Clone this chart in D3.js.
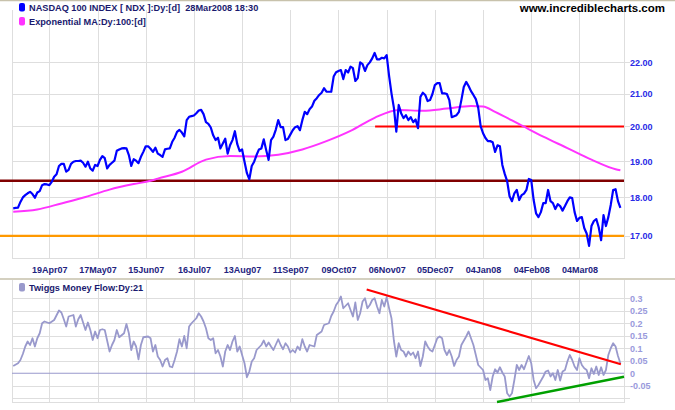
<!DOCTYPE html>
<html><head><meta charset="utf-8">
<script src="https://cdn.jsdelivr.net/npm/d3@7"></script>
<style>
body{margin:0;background:#fff}
svg{display:block}
text{font-family:"Liberation Sans",Arial,sans-serif;font-weight:bold}
</style>
</head><body>
<svg id="c" width="675" height="410"></svg>
<script>
// ---------- DATA ----------
const tickLabels = ["19Apr07","17May07","15Jun07","16Jul07","13Aug07","11Sep07","09Oct07","06Nov07","05Dec07","04Jan08","04Feb08","04Mar08"];
const tickBars = [15,35,55,75,95,115,135,155,175,195,215,235];

// NASDAQ 100 index (/100), one value per trading day, bar 0..252
const price = [
17.71,17.72,17.73,17.88,18.00,18.06,18.11,18.15,18.09,17.99,
18.13,18.17,18.33,18.36,18.35,18.33,18.42,18.56,18.63,18.86,
18.92,18.92,18.70,18.75,18.92,18.98,19.00,19.00,19.01,18.95,
18.84,18.98,18.79,18.73,18.89,18.86,19.03,19.14,19.08,18.79,
18.89,18.95,19.01,19.29,19.33,19.36,19.37,19.36,19.17,18.86,
19.05,19.01,18.94,19.12,19.26,19.42,19.42,19.35,19.26,19.38,
19.21,19.17,19.12,19.33,19.35,19.36,19.55,19.67,19.84,19.90,
19.82,19.71,20.19,20.29,20.31,20.33,20.40,20.48,20.50,20.37,
20.13,20.08,19.97,19.74,19.60,19.67,19.36,19.50,19.64,19.21,
19.45,19.60,19.86,19.48,19.28,19.33,18.98,18.66,18.49,18.86,
18.98,19.17,19.33,19.36,19.62,19.31,19.03,19.60,19.70,19.91,
20.19,19.98,19.98,19.60,19.63,19.76,19.89,19.98,20.01,19.89,
20.19,20.44,20.37,20.52,20.60,20.78,20.86,20.96,21.03,21.17,
21.06,21.06,21.06,21.54,21.68,21.72,21.75,21.46,21.75,21.67,
21.86,21.81,21.40,21.49,22.00,21.94,21.72,21.91,22.00,22.13,
22.31,22.10,22.10,22.15,22.13,22.24,21.56,21.01,20.56,19.85,
20.65,20.40,20.25,20.34,20.19,20.28,20.13,20.21,19.95,20.90,
21.03,20.96,20.77,20.80,20.99,21.27,21.33,21.33,21.01,21.01,
20.99,20.80,20.28,20.31,20.34,20.44,20.80,21.21,21.37,21.24,
21.08,20.96,20.83,20.56,20.01,19.80,19.66,19.57,19.57,19.54,
19.26,19.45,19.42,18.89,18.64,18.44,18.03,17.90,18.11,18.20,
17.93,18.06,18.10,18.20,18.50,18.47,17.93,17.58,17.48,17.61,
17.85,17.85,18.20,17.90,17.85,17.69,17.82,17.77,17.65,17.77,
17.90,18.00,17.98,17.61,17.38,17.46,17.48,17.20,17.06,16.75,
17.25,17.38,17.43,17.22,16.89,17.53,17.25,17.48,17.80,18.20,
18.22,17.90,17.72
];

// Exponential MA 100 (read at sample bars)
const emaBar = [0,10,20,30,40,50,57,60,70,80,90,100,110,120,130,140,150,160,170,180,190,195,200,210,220,230,240,250,252];
const emaVal = [17.62,17.68,17.84,18.01,18.21,18.36,18.45,18.51,18.70,19.04,19.14,19.13,19.18,19.33,19.57,19.87,20.26,20.50,20.47,20.54,20.62,20.60,20.44,20.07,19.70,19.37,19.04,18.77,18.74];

// Twiggs Money Flow 21
const tmfBar = [0,2,3,4,5,6,7,8,9,10,11,12,13,15,17,19,20,21,22,23,25,26,27,28,30,31,32,33,34,35,36,37,38,40,41,42,43,44,46,47,48,49,50,51,52,53,54,56,57,58,59,60,61,62,63,64,65,66,67,68,69,70,71,72,73,74,76,77,78,79,80,81,82,83,84,85,86,87,88,89,90,91,92,93,94,95,96,97,98,99,100,101,103,104,105,106,107,108,110,111,112,113,114,115,116,117,118,119,120,121,122,123,125,126,127,128,129,131,132,133,134,135,136,137,139,140,141,142,143,144,145,146,147,148,149,150,151,152,153,154,155,156,157,158,159,160,161,162,163,164,165,166,167,168,169,170,171,172,173,174,175,176,177,178,179,180,181,182,183,184,185,186,188,189,190,191,192,193,195,196,197,198,199,200,201,202,203,204,205,206,207,208,209,210,211,212,213,214,215,216,217,218,220,221,222,223,224,225,226,227,228,229,230,231,232,233,234,235,236,237,238,239,240,241,242,243,244,245,246,247,248,249,250,251,252];
const tmfVal = [0.029,0.04,0.053,0.077,0.107,0.127,0.113,0.14,0.107,0.14,0.16,0.2,0.207,0.2,0.213,0.251,0.243,0.216,0.187,0.227,0.233,0.187,0.216,0.233,0.173,0.203,0.173,0.133,0.167,0.14,0.173,0.176,0.173,0.087,0.113,0.133,0.173,0.144,0.16,0.197,0.16,0.093,0.127,0.107,0.056,0.113,0.144,0.147,0.14,0.087,0.113,0.067,0.053,0.027,0.053,0.06,0.027,0.024,0.053,0.087,0.136,0.107,0.149,0.1,0.187,0.2,0.22,0.24,0.227,0.207,0.18,0.14,0.133,0.14,0.08,0.093,0.067,0.027,0.087,0.113,0.093,0.127,0.149,0.087,0.107,0.073,0.04,-0.016,0.007,0.047,0.06,0.093,0.113,0.131,0.107,0.123,0.107,0.093,0.136,0.113,0.096,0.12,0.107,0.083,0.093,0.083,0.107,0.093,0.136,0.107,0.087,0.113,0.107,0.153,0.16,0.167,0.193,0.2,0.229,0.247,0.273,0.287,0.307,0.26,0.28,0.253,0.227,0.283,0.213,0.24,0.287,0.3,0.26,0.273,0.293,0.3,0.267,0.24,0.293,0.267,0.304,0.26,0.22,0.13,0.067,0.12,0.093,0.087,0.067,0.087,0.073,0.083,0.06,0.087,0.029,0.067,0.127,0.107,0.093,0.087,0.113,0.14,0.147,0.14,0.093,0.073,0.093,0.067,0.029,0.053,0.067,0.113,0.147,0.167,0.14,0.113,0.073,0.033,0.013,-0.027,-0.02,-0.067,-0.013,0.016,0.003,0.024,0.003,-0.013,-0.08,-0.093,-0.08,-0.027,0.033,0.013,0.033,0.016,0.043,0.069,0.04,-0.027,-0.06,-0.047,-0.013,0.007,0.011,-0.013,0,-0.027,0.013,-0.029,0.007,0.013,0.047,0.073,0.053,0.027,0.013,0.06,0.033,0.02,0.013,-0.02,0.02,-0.003,0.027,-0.007,0.024,-0.007,0.013,0.073,0.1,0.12,0.107,0.069,0.04];

const priceTicks = [22,21,20,19,18,17];
const tmfTicks = [0.3,0.25,0.2,0.15,0.1,0.05,0,-0.05];
const tmfTickLabels = ["0.3","0.25","0.2","0.15","0.1","0.05","0","-0.05"];
const tmfGrid = [0.3,0.25,0.2,0.15,0.1,0.05,-0.05,-0.1];

// annotation lines drawn on the chart
const fullLevels = [{v:18.45,c:"#800000",w:2.5},{v:17.0,c:"#ff9900",w:2.2}];
const resist = {from:150.2,to:253.5,v:20.0};
const tmfDown = [[146.7,0.335],[252.2,0.036]];
const tmfUp = [[200.8,-0.115],[253.5,-0.0136]];

// ---------- DRAW ----------
const svg = d3.select("#c");
const L=12,R=624,T1=10,B1=258,T2=280,B2=402;
const x = d3.scaleLinear().domain([-0.5,253.5]).range([L,R]);
const yP = d3.scaleLog().domain([16.45,23.78]).range([B1,T1]);
const yT = d3.scaleLinear().domain([-0.115,0.373]).range([B2,T2]);
const grid="#dedede";

// frame lines
svg.append("line").attr("x1",0).attr("x2",675).attr("y1",0.5).attr("y2",0.5).attr("stroke","#c8c2ac").attr("stroke-width",1.5);
svg.append("line").attr("x1",0).attr("x2",675).attr("y1",279).attr("y2",279).attr("stroke","#d4d0c0").attr("stroke-width",2);

// grids upper
const g1 = svg.append("g").attr("shape-rendering","crispEdges");
g1.selectAll("line.h").data(priceTicks).enter().append("line")
 .attr("x1",L).attr("x2",R+6).attr("y1",d=>Math.round(yP(d))+0.5).attr("y2",d=>Math.round(yP(d))+0.5).attr("stroke",grid).attr("stroke-width",1.5);
g1.selectAll("line.v").data(tickBars).enter().append("line")
 .attr("x1",d=>Math.round(x(d))+0.5).attr("x2",d=>Math.round(x(d))+0.5).attr("y1",T1).attr("y2",B1).attr("stroke",grid).attr("stroke-width",1.5);
g1.append("path").attr("d",`M${L+0.5},${T1}V${B1+0.5}H${R+0.5}V${T1}`).attr("fill","none").attr("stroke",grid).attr("stroke-width",1.5);

// grids lower
const g2 = svg.append("g").attr("shape-rendering","crispEdges");
g2.selectAll("line.h").data(tmfGrid).enter().append("line")
 .attr("x1",L).attr("x2",R+6).attr("y1",d=>Math.round(yT(d))+0.5).attr("y2",d=>Math.round(yT(d))+0.5).attr("stroke",grid).attr("stroke-width",1.5);
g2.selectAll("line.v").data(tickBars).enter().append("line")
 .attr("x1",d=>Math.round(x(d))+0.5).attr("x2",d=>Math.round(x(d))+0.5).attr("y1",T2).attr("y2",B2).attr("stroke",grid).attr("stroke-width",1.5);
g2.append("path").attr("d",`M${L+0.5},${T2}V${B2+0.5}H${R+0.5}V${T2}`).attr("fill","none").attr("stroke",grid).attr("stroke-width",1.5);

// x axis labels
const xa = svg.append("g").attr("transform",`translate(0,${B1})`)
 .call(d3.axisBottom(x).tickValues(tickBars).tickFormat((d,i)=>tickLabels[i]).tickSize(0).tickPadding(0));
xa.select(".domain").remove();
xa.selectAll("text").attr("y",14.5).attr("dy",null).attr("fill","#23237e").style("font-size","9px").style("font-weight","bold");

// y axis upper
const ya = svg.append("g").attr("transform",`translate(${R},0)`)
 .call(d3.axisRight(yP).tickValues(priceTicks).tickFormat(d3.format(".2f")).tickSize(0).tickPadding(6));
ya.select(".domain").remove();
ya.selectAll("text").attr("fill","#2a2ae6").style("font-size","9px").attr("dy","0.34em");

// y axis lower
const yb = svg.append("g").attr("transform",`translate(${R},0)`)
 .call(d3.axisRight(yT).tickValues(tmfTicks).tickFormat((d,i)=>tmfTickLabels[i]).tickSize(0).tickPadding(6));
yb.select(".domain").remove();
yb.selectAll("text").attr("fill","#9a9adc").style("font-size","9px").attr("dy","0.34em");

// full width levels
svg.selectAll("line.lvl").data(fullLevels).enter().append("line")
 .attr("x1",0).attr("x2",R).attr("y1",d=>yP(d.v)).attr("y2",d=>yP(d.v))
 .attr("stroke",d=>d.c).attr("stroke-width",d=>d.w);
svg.append("line").attr("x1",x(resist.from)).attr("x2",x(resist.to)).attr("y1",yP(resist.v)).attr("y2",yP(resist.v)).attr("stroke","#ff0000").attr("stroke-width",2);

// EMA
const emaPts = emaBar.map((b,i)=>[b,emaVal[i]]);
svg.append("path").attr("d",d3.line().x(d=>x(d[0])).y(d=>yP(d[1])).curve(d3.curveMonotoneX)(emaPts))
 .attr("fill","none").attr("stroke","#ff33ff").attr("stroke-width",2);

// price
svg.append("path").attr("d",d3.line().x((d,i)=>x(i)).y(d=>yP(d))(price))
 .attr("fill","none").attr("stroke","#0000ff").attr("stroke-width",2.2).attr("stroke-linejoin","round");

// TMF zero line
svg.append("line").attr("x1",L).attr("x2",R).attr("y1",yT(0)).attr("y2",yT(0)).attr("stroke","#9999cc").attr("stroke-width",1.2);
// TMF
const tmfPts = tmfBar.map((b,i)=>[b,tmfVal[i]]);
svg.append("path").attr("d",d3.line().x(d=>x(d[0])).y(d=>yT(d[1]))(tmfPts))
 .attr("fill","none").attr("stroke","#9999cc").attr("stroke-width",1.8).attr("stroke-linejoin","round");
// trend lines
svg.append("path").attr("d",d3.line().x(d=>x(d[0])).y(d=>yT(d[1]))(tmfDown)).attr("stroke","#ff0000").attr("stroke-width",2.2).attr("fill","none");
svg.append("path").attr("d",d3.line().x(d=>x(d[0])).y(d=>yT(d[1]))(tmfUp)).attr("stroke","#00a000").attr("stroke-width",2.5).attr("fill","none");

// legends
const legends = [
 {y:3,c:"#0000ff",t:"NASDAQ 100 INDEX [ NDX ]:Dy:[d]  28Mar2008 18:30"},
 {y:17,c:"#ff33ff",t:"Exponential MA:Dy:100:[d]"},
 {y:283,c:"#9999cc",t:"Twiggs Money Flow:Dy:21"}
];
legends.forEach(l=>{
 svg.append("rect").attr("x",19).attr("y",l.y).attr("width",6).attr("height",8.5).attr("rx",2).attr("fill",l.c);
 svg.append("text").attr("x",29).attr("y",l.y+7.8).attr("fill","#1a1a6e").style("font-size","9.2px").style("white-space","pre").text(l.t);
});
svg.append("text").attr("x",665).attr("y",11.5).attr("text-anchor","end").attr("fill","#000").style("font-size","11.5px").text("www.incrediblecharts.com");
</script>
</body></html>
